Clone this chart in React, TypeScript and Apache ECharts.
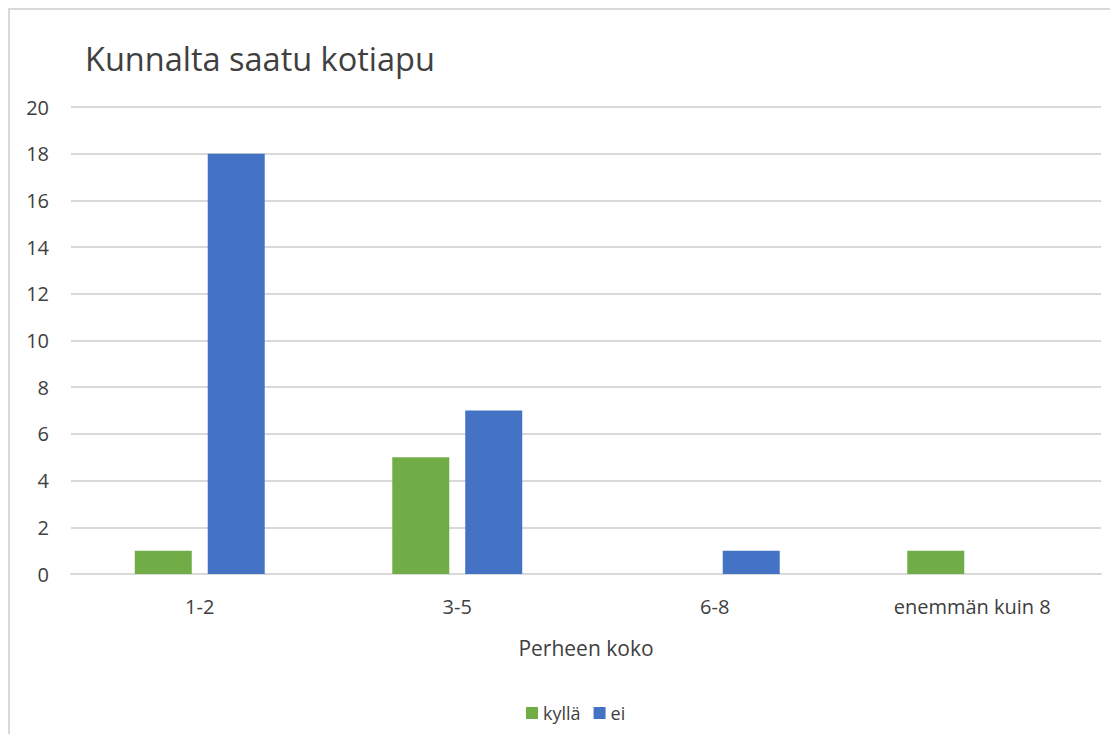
import React, { useEffect, useRef } from "react";
import * as echarts from "echarts";

const title = "Kunnalta saatu kotiapu";
const categories = ["1-2", "3-5", "6-8", "enemmän kuin 8"];
const seriesNames = ["kyllä", "ei"];
const kyllaValues = [1, 5, 0, 1];
const eiValues = [18, 7, 1, 0];
const xAxisName = "Perheen koko";
const yMin = 0;
const yMax = 20;
const yInterval = 2;

const FONT = "'Open Sans', 'Noto Sans', sans-serif";
const TEXT = "#404040";

export default function App() {
  const ref = useRef<HTMLDivElement>(null);
  useEffect(() => {
    if (!ref.current) return;
    const chart = echarts.init(ref.current, undefined, { renderer: "svg" });
    chart.setOption({
      animation: false,
      backgroundColor: "#ffffff",
      textStyle: { fontFamily: FONT },
      title: {
        text: title,
        left: 70,
        top: 27,
        textStyle: { fontFamily: FONT, fontSize: 32.5, fontWeight: "normal", color: TEXT },
      },
      legend: {
        data: seriesNames,
        top: 689,
        left: 511,
        itemWidth: 12,
        itemHeight: 12,
        itemGap: 13,
        icon: "rect",
        textStyle: { fontFamily: FONT, fontSize: 18, color: TEXT },
      },
      grid: { left: 61, right: 9, top: 97, bottom: 160, containLabel: false },
      xAxis: {
        type: "category",
        data: categories,
        name: xAxisName,
        nameLocation: "middle",
        nameGap: 63,
        nameTextStyle: { fontFamily: FONT, fontSize: 21, color: TEXT },
        axisLine: { show: true, lineStyle: { color: "#d9d9d9", width: 2 } },
        axisTick: { show: false },
        axisLabel: { fontFamily: FONT, fontSize: 20, color: TEXT, margin: 22 },
      },
      yAxis: {
        type: "value",
        min: yMin,
        max: yMax,
        interval: yInterval,
        axisLine: { show: false },
        axisTick: { show: false },
        splitLine: { lineStyle: { color: "#d9d9d9", width: 2 } },
        axisLabel: { fontFamily: FONT, fontSize: 20, color: TEXT, margin: 22 },
      },
      series: [
        {
          name: seriesNames[0],
          type: "bar",
          data: kyllaValues,
          barWidth: 57,
          barGap: "28%",
          itemStyle: { color: "#70AD47" },
        },
        {
          name: seriesNames[1],
          type: "bar",
          data: eiValues,
          barWidth: 57,
          barGap: "28%",
          itemStyle: { color: "#4472C4" },
        },
      ],
    });
    return () => chart.dispose();
  }, []);
  return (
    <div
      ref={ref}
      style={{
        width: 1100,
        height: 724,
        borderLeft: "2px solid #d9d9d9",
        borderTop: "2px solid #d9d9d9",
      }}
    />
  );
}
